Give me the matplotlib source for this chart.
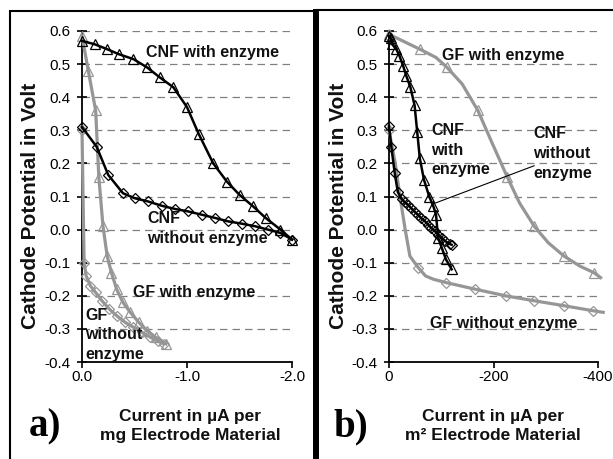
import matplotlib
matplotlib.use("Agg")
import matplotlib.pyplot as plt
from matplotlib.lines import Line2D

plt.rcParams["font.family"] = ["Liberation Sans", "DejaVu Sans"]
plt.rcParams["axes.unicode_minus"] = False

W, H = 613, 459

# ---- data, panel a (current per mg) ----
CNF_ENZ_A_X = [0, -0.12, -0.24, -0.35, -0.49, -0.62, -0.74, -0.87, -1.0, -1.11,
               -1.25, -1.38, -1.5, -1.63, -1.75, -1.89, -2.0]
CNF_ENZ_A_Y = [0.57, 0.56, 0.545, 0.53, 0.515, 0.49, 0.46, 0.43, 0.37, 0.29,
               0.2, 0.145, 0.105, 0.07, 0.035, 0.0, -0.03]

CNF_NOENZ_A_X = [0, -0.14, -0.25, -0.39, -0.5, -0.63, -0.76, -0.89, -1.01, -1.14,
                 -1.27, -1.39, -1.52, -1.65, -1.77, -1.89, -2.0]
CNF_NOENZ_A_Y = [0.31, 0.25, 0.165, 0.11, 0.095, 0.085, 0.072, 0.062, 0.055, 0.045,
                 0.035, 0.025, 0.018, 0.01, 0.0, -0.01, -0.03]

GF_ENZ_A_X = [0, -0.06, -0.13, -0.16, -0.2, -0.24, -0.28, -0.33, -0.39, -0.46,
              -0.54, -0.62, -0.7, -0.8]
GF_ENZ_A_Y = [0.585, 0.48, 0.36, 0.16, 0.01, -0.08, -0.13, -0.18, -0.22, -0.25,
              -0.28, -0.305, -0.325, -0.345]

GF_NOENZ_A_X = [0, -0.02, -0.04, -0.08, -0.13, -0.19, -0.26, -0.33, -0.41, -0.49,
                -0.57, -0.65, -0.72, -0.78]
GF_NOENZ_A_Y = [0.3, -0.1, -0.14, -0.17, -0.19, -0.215, -0.24, -0.26, -0.28, -0.295,
                -0.31, -0.325, -0.337, -0.345]

# ---- data, panel b (current per m²) ----
CNF_ENZ_B_X = [0, -3, -6, -14, -20, -27, -33, -41, -49, -54, -59, -67, -77, -85,
               -90, -94, -101, -109, -120]
CNF_ENZ_B_Y = [0.585, 0.58, 0.56, 0.545, 0.525, 0.495, 0.465, 0.43, 0.375, 0.295,
               0.215, 0.15, 0.1, 0.07, 0.045, -0.025, -0.055, -0.09, -0.12]

CNF_NOENZ_B_X = [0, -4.5, -11, -17, -24, -30, -37, -43, -49, -56, -62, -69, -75,
                 -81, -88, -94, -101, -107, -117, -120]
CNF_NOENZ_B_Y = [0.313, 0.25, 0.17, 0.113, 0.093, 0.083, 0.074, 0.064, 0.054,
                 0.044, 0.034, 0.025, 0.015, 0.005, -0.005, -0.015, -0.025,
                 -0.034, -0.044, -0.046]

# GF curves in b: line trace, markers only at the measured points
GF_ENZ_B_X = [0, -59, -90, -111, -140, -170, -195, -226, -250, -278, -305, -335,
              -365, -392, -405]
GF_ENZ_B_Y = [0.59, 0.545, 0.52, 0.49, 0.44, 0.36, 0.27, 0.16, 0.08, 0.01, -0.04,
              -0.08, -0.11, -0.13, -0.145]
GF_ENZ_B_MARK = [0, 1, 3, 5, 7, 9, 11, 13]

GF_NOENZ_B_X = [0, -12, -21, -31, -40, -56, -70, -85, -109, -165, -223, -278,
                -335, -390, -410]
GF_NOENZ_B_Y = [0.3, 0.2, 0.1, 0.0, -0.08, -0.115, -0.14, -0.15, -0.16, -0.18,
                -0.2, -0.215, -0.23, -0.245, -0.25]
GF_NOENZ_B_MARK = [0, 5, 8, 9, 10, 11, 12, 13]

Y_TICKS = [0.6, 0.5, 0.4, 0.3, 0.2, 0.1, 0.0, -0.1, -0.2, -0.3, -0.4]
X_TICKS_A = [0.0, -1.0, -2.0]
X_TICKS_B = [0, -200, -400]

BLACK = "#000000"
GRAY = "#969696"


def ax_rect(left, right, top, bottom):
    return [left / W, 1 - bottom / H, (right - left) / W, (bottom - top) / H]


def style_axes(ax, xlim, xticks, xfmt):
    ax.set_xlim(*xlim)
    ax.set_ylim(-0.4, 0.6)
    ax.set_xticks(xticks)
    ax.set_xticklabels([xfmt.format(v) for v in xticks])
    ax.set_yticks(Y_TICKS)
    ax.set_yticklabels([f"{v:.1f}" for v in Y_TICKS])
    for s in ("top", "right"):
        ax.spines[s].set_visible(False)
    for s in ("left", "bottom"):
        ax.spines[s].set_linewidth(1.3)
    ax.tick_params(axis="y", direction="inout", length=7, width=1.2,
                   labelsize=11, pad=5)
    ax.tick_params(axis="x", direction="out", length=4, width=1.2,
                   labelsize=11, pad=2)
    ax.set_axisbelow(True)
    ax.yaxis.grid(True, linestyle=(0, (6, 4)), color="#808080", linewidth=0.9)
    ax.set_facecolor("none")


def curve(ax, x, y, color, marker, lw, ms, markevery=None):
    ax.plot(x, y, color=color, lw=lw, marker=marker, ms=ms, mfc="none",
            mec=color, mew=0.9, markevery=markevery, clip_on=False, zorder=3)


fig = plt.figure(figsize=(W / 100, H / 100), dpi=100)

# ---------------- panel a ----------------
ax1 = fig.add_axes(ax_rect(82, 292, 31, 362))
style_axes(ax1, (0, -2.0), X_TICKS_A, "{:.1f}")
curve(ax1, GF_ENZ_A_X, GF_ENZ_A_Y, GRAY, "^", 2.3, 6.5)
curve(ax1, GF_NOENZ_A_X, GF_NOENZ_A_Y, GRAY, "D", 2.3, 5)
curve(ax1, CNF_ENZ_A_X, CNF_ENZ_A_Y, BLACK, "^", 1.8, 6.5)
curve(ax1, CNF_NOENZ_A_X, CNF_NOENZ_A_Y, BLACK, "D", 1.8, 5)

tk = dict(fontsize=11.5, fontweight="bold", color="#111111", linespacing=1.4)
ax1.text(-1.24, 0.534, "CNF with enzyme", ha="center", va="center", **tk)
ax1.text(-0.62, 0.003, "CNF\nwithout enzyme", ha="left", va="center", **tk)
ax1.text(-1.07, -0.19, "GF with enzyme", ha="center", va="center", **tk)
ax1.text(-0.03, -0.318, "GF\nwithout\nenzyme", ha="left", va="center", **tk)

# ---------------- panel b ----------------
ax2 = fig.add_axes(ax_rect(389, 598, 31, 362))
style_axes(ax2, (0, -400), X_TICKS_B, "{:d}")
curve(ax2, GF_ENZ_B_X, GF_ENZ_B_Y, GRAY, "^", 2.3, 6.5, GF_ENZ_B_MARK)
curve(ax2, GF_NOENZ_B_X, GF_NOENZ_B_Y, GRAY, "D", 2.3, 5, GF_NOENZ_B_MARK)
curve(ax2, CNF_ENZ_B_X, CNF_ENZ_B_Y, BLACK, "^", 1.8, 6.5)
curve(ax2, CNF_NOENZ_B_X, CNF_NOENZ_B_Y, BLACK, "D", 1.8, 5)

ax2.text(-218, 0.525, "GF with enzyme", ha="center", va="center", **tk)
ax2.text(-81, 0.24, "CNF\nwith\nenzyme", ha="left", va="center", **tk)
ax2.text(-276, 0.23, "CNF\nwithout\nenzyme", ha="left", va="center", **tk)
ax2.text(-219, -0.285, "GF without enzyme", ha="center", va="center", **tk)
ax2.annotate("", xy=(-80, 0.075), xytext=(-283, 0.196),
             arrowprops=dict(arrowstyle="-", lw=0.8, color=BLACK))

# ---------------- axis titles and panel letters ----------------
for px in (31, 339):
    fig.text(px / W, 1 - 206 / H, "Cathode Potential in Volt", rotation=90,
             ha="center", va="center", fontsize=15, fontweight="bold",
             color="#111111")
lab = dict(fontsize=12.5, fontweight="bold", color="#111111", linespacing=1.4)
fig.text(190 / W, 1 - 426 / H, "Current in µA per\nmg Electrode Material",
         ha="center", va="center", **lab)
fig.text(493 / W, 1 - 426 / H, "Current in µA per\nm² Electrode Material",
         ha="center", va="center", **lab)

let = dict(fontsize=28, fontweight="bold", family="Liberation Serif")
fig.text(45 / W, 1 - 427 / H, "a)", ha="center", va="center", **let)
fig.text(351 / W, 1 - 427 / H, "b)", ha="center", va="center", **let)

# ---------------- panel frames ----------------
def fig_line(x0, y0, x1, y1, lw):
    fig.add_artist(Line2D([x0 / W, x1 / W], [1 - y0 / H, 1 - y1 / H],
                          color=BLACK, lw=lw, solid_capstyle="butt"))

fig_line(10, 10.5, 316, 10.5, 1.5)
fig_line(10, 10, 10, H, 1.5)
fig_line(316, 9.8, W, 9.8, 1.5)
fig_line(316, 9, 316, H, 4.3)

fig.savefig("out.png", dpi=100)
